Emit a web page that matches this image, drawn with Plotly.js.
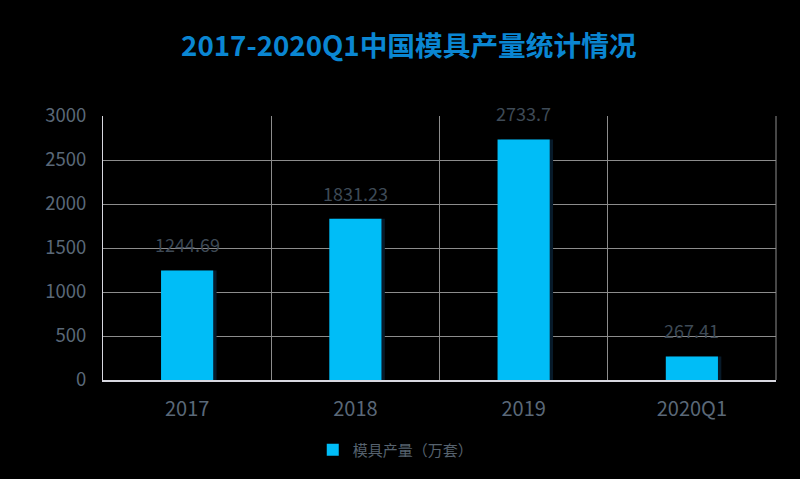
<!DOCTYPE html>
<html>
<head>
<meta charset="utf-8">
<script src="https://cdn.plot.ly/plotly-3.0.1.min.js"></script>
<style>html,body{margin:0;padding:0;background:#000;}#chart{width:800px;height:479px;}</style>
</head>
<body>
<div id="chart"></div>
<script>
const categories = ['2017', '2018', '2019', '2020Q1'];
const output = [1244.69, 1831.23, 2733.7, 267.41];
const seriesName = '模具产量（万套）';
const titleText = '2017-2020Q1中国模具产量统计情况';

const font = '"Noto Sans CJK SC", "Noto Sans", sans-serif';
const idx = categories.map((c, i) => i);

const shadow = {
  type: 'bar', x: idx, y: output, width: 0.31, offset: -0.155 + 0.02,
  marker: {color: '#071a2a', line: {width: 0}},
  showlegend: false, hoverinfo: 'skip'
};

const trace = {
  type: 'bar',
  x: idx,
  y: output,
  name: seriesName,
  width: 0.31, offset: -0.155,
  marker: {color: '#00bdf7', line: {width: 0}},
  hoverinfo: 'y'
};

const annotations = idx.map(i => ({
  x: i, y: output[i], xref: 'x', yref: 'y',
  text: String(output[i]), showarrow: false,
  yanchor: 'bottom', yshift: 11,
  font: {family: font, size: 18, color: '#3e4a56'}
}));

const layout = {
  width: 800, height: 479,
  paper_bgcolor: '#000', plot_bgcolor: '#000',
  margin: {l: 103, r: 24, t: 116, b: 97},
  barmode: 'overlay',
  title: {text: titleText, x: 0.511, xanchor: 'center', y: 0.904, yanchor: 'middle',
    font: {family: font, size: 27.7, color: '#0a86d2', weight: 'bold'}},
  xaxis: {
    type: 'linear', range: [-0.5, categories.length - 0.5],
    tickmode: 'array', tickvals: idx, ticktext: categories,
    showgrid: false,
    minor: {tickmode: 'linear', tick0: 0.5, dtick: 1, showgrid: true, gridcolor: '#8c8c8c', gridwidth: 1, ticks: ''},
    showline: true, linecolor: '#d8d8e0', linewidth: 1.5,
    ticks: '', ticklabelstandoff: 10,
    tickfont: {family: font, size: 20, color: '#5a6878'},
    zeroline: false, fixedrange: true
  },
  yaxis: {
    range: [0, 3000], dtick: 500, tick0: 0,
    showgrid: true, gridcolor: '#8c8c8c', gridwidth: 1,
    showline: true, linecolor: '#d8d8e0', linewidth: 1,
    ticks: '', ticklabelstandoff: 12,
    tickfont: {family: font, size: 18.5, color: '#5a6878'},
    zeroline: false, fixedrange: true
  },
  shapes: [{type: 'line', xref: 'paper', yref: 'paper', x0: 1, x1: 1, y0: 0, y1: 1,
    line: {color: '#8c8c8c', width: 1}}],
  showlegend: true,
  legend: {orientation: 'h', x: 0.435, xanchor: 'center', y: -0.265, yanchor: 'middle',
    font: {family: font, size: 15, color: '#56626e'}, bgcolor: 'rgba(0,0,0,0)'},
  annotations: annotations
};

Plotly.newPlot('chart', [shadow, trace], layout, {displayModeBar: false, staticPlot: true});
</script>
</body>
</html>
